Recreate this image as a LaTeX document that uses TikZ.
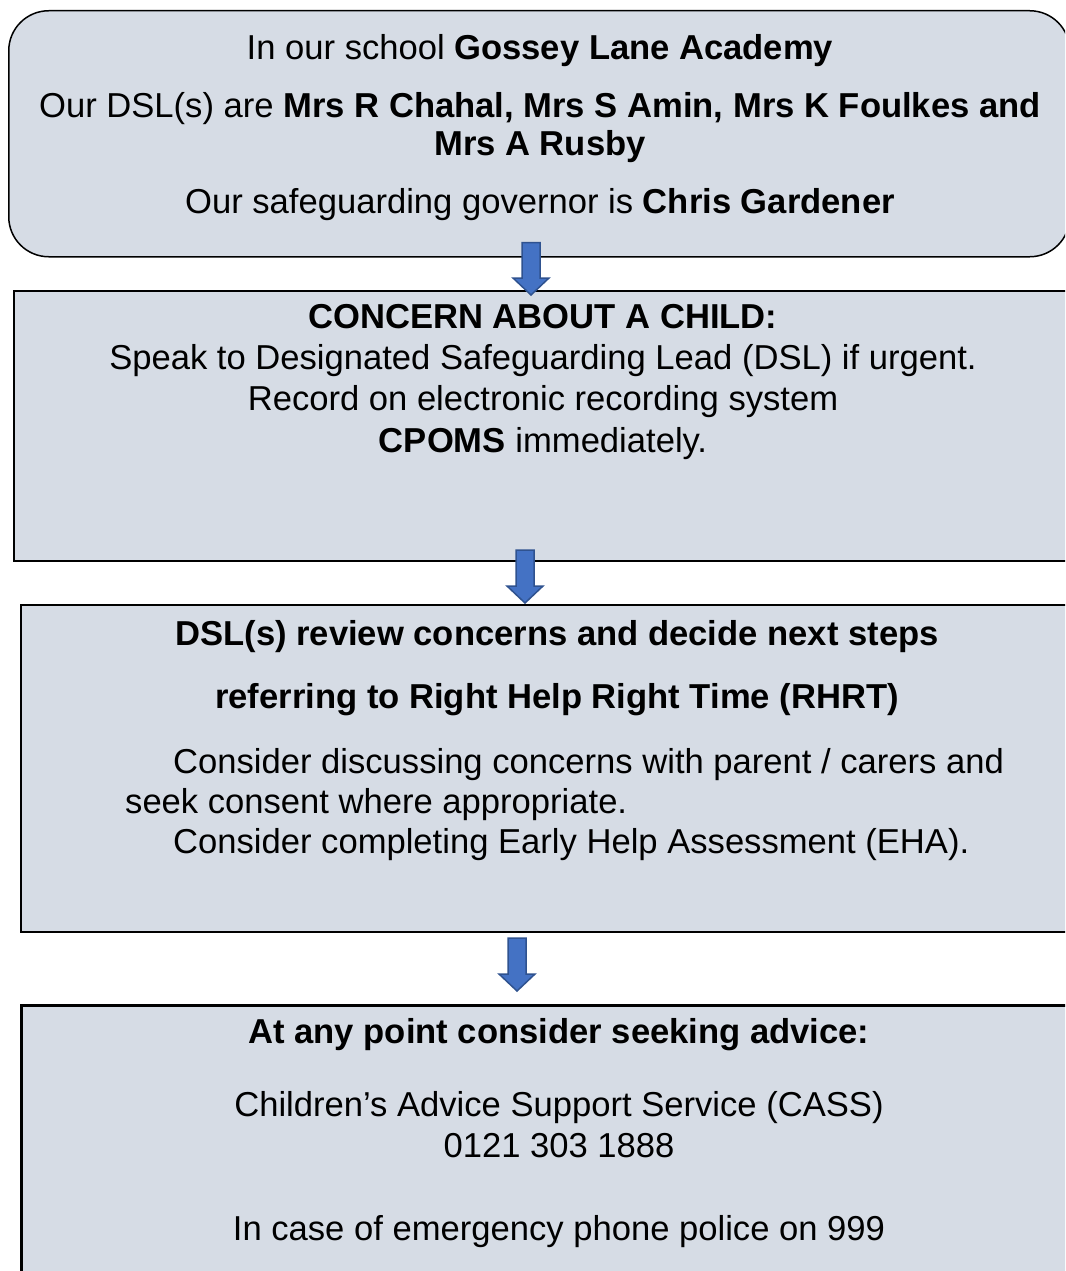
\documentclass[tikz,border=0pt]{standalone}
\usepackage{fontspec}
\setmainfont{Liberation Sans}
\usetikzlibrary{calc}
\definecolor{boxfill}{HTML}{D6DCE5}
\definecolor{arrfill}{HTML}{4472C4}
\definecolor{arrline}{HTML}{2F528F}
\tikzset{
  flowbox/.style={draw=black, fill=boxfill, line width=2pt, inner sep=0pt, anchor=north west},
  txt/.style={inner sep=0pt, anchor=base, font=\fontsize{34.6}{41.5}\selectfont},
  txtl/.style={txt, anchor=base west},
  arrowshape/.style={fill=arrfill, draw=arrline, line width=1.5pt, line join=miter}
}
\newcommand\blockarrow[2]{%
  \path[arrowshape] let \p1=(#1), \p2=(#2) in
  (\x1-9pt,\y1) -- (\x1+9pt,\y1) -- (\x1+9pt,\y2+17pt) -- (\x1+18pt,\y2+17pt)
  -- (\x1,\y2) -- (\x1-18pt,\y2+17pt) -- (\x1-9pt,\y2+17pt) -- cycle;}
\begin{document}
\begin{tikzpicture}[x=1pt,y=-1pt]
\useasboundingbox (0,0) rectangle (1065,1271);
\clip (0,0) rectangle (1065,1271);
\fill[white] (0,0) rectangle (1065,1271);

% boxes
\node[flowbox, line width=1.5pt, rounded corners=40pt, minimum width=1061pt, minimum height=246pt] (b1) at (8,10) {};
\node[flowbox, minimum width=1070pt, minimum height=270pt] (b2) at (13,290) {};
\node[flowbox, minimum width=1065pt, minimum height=327pt] (b3) at (20,604) {};
\node[flowbox, line width=2.5pt, minimum width=1065pt, minimum height=300pt] (b4) at (20,1004) {};

% box 1 text
\node[txt] (t11) at (540,60) {In our school \textbf{Gossey Lane Academy}};
\node[txt] (t12) at (540,118) {Our DSL(s) are \textbf{Mrs R Chahal, Mrs S Amin, Mrs K Foulkes and}};
\node[txt] (t13) at (540,155) {\textbf{Mrs A Rusby}};
\node[txt] (t14) at (540,213) {Our safeguarding governor is \textbf{Chris Gardener}};

% box 2 text
\node[txt] (t21) at (543,328) {\textbf{CONCERN ABOUT A CHILD:}};
\node[txt] (t22) at (543,369) {Speak to Designated Safeguarding Lead (DSL) if urgent.};
\node[txt] (t23) at (543,410) {Record on electronic recording system};
\node[txt] (t24) at (543,452) {\textbf{CPOMS} immediately.};

% box 3 text
\node[txt] (t31) at (557,645) {\textbf{DSL(s) review concerns and decide next steps}};
\node[txt] (t32) at (557,708) {\textbf{referring to Right Help Right Time (RHRT)}};
\node[txtl] (t33) at (173,773) {Consider discussing concerns with parent / carers and};
\node[txtl] (t34) at (125,813) {seek consent where appropriate.};
\node[txtl] (t35) at (173,853) {Consider completing Early Help Assessment (EHA).};

% box 4 text
\node[txt] (t41) at (559,1043) {\textbf{At any point consider seeking advice:}};
\node[txt] (t42) at (559,1116) {Children’s Advice Support Service (CASS)};
\node[txt] (t43) at (559,1157) {0121 303 1888};
\node[txt] (t44) at (559,1240) {In case of emergency phone police on 999};

% connectors
\coordinate (a1s) at ($(b1.south -| 531,0)+(0,-15)$);
\coordinate (a1e) at ($(b2.north -| 531,0)+(0,5)$);
\coordinate (a2s) at ($(b2.south -| 525,0)+(0,-12)$);
\coordinate (a2e) at ($(b3.north -| 525,0)+(0,-1)$);
\coordinate (a3s) at ($(b3.south -| 517,0)+(0,5)$);
\coordinate (a3e) at ($(b4.north -| 517,0)+(0,-13)$);
\blockarrow{a1s}{a1e}
\blockarrow{a2s}{a2e}
\blockarrow{a3s}{a3e}
\end{tikzpicture}
\end{document}
